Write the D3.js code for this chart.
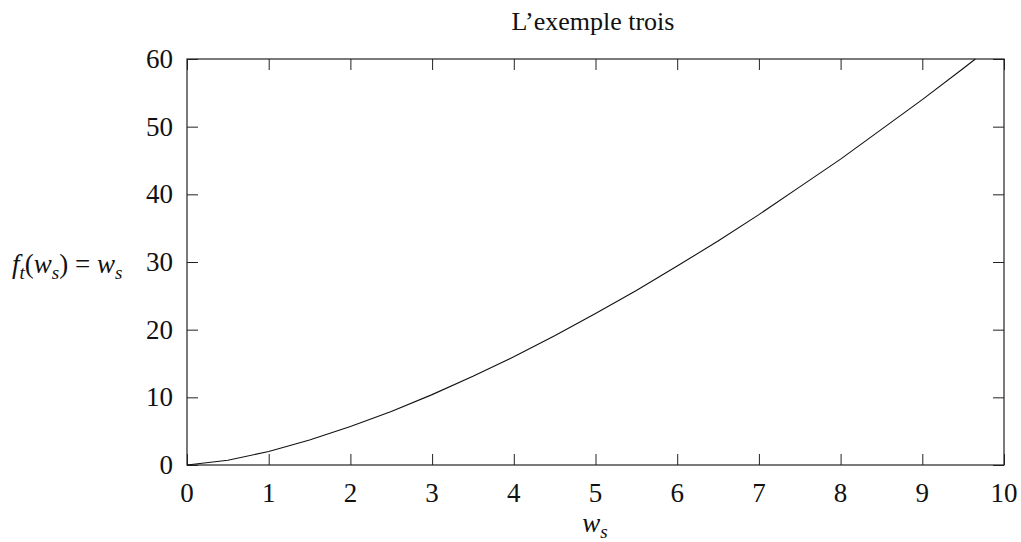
<!DOCTYPE html>
<html>
<head>
<meta charset="utf-8">
<script src="https://cdn.jsdelivr.net/npm/d3@7"></script>
<style>
  body { margin: 0; background: #fff; }
  text { font-family: "Liberation Serif", "DejaVu Serif", serif; fill: #111; }
</style>
</head>
<body>
<div id="chart"></div>
<script>
// values
var xTicks = [0, 1, 2, 3, 4, 5, 6, 7, 8, 9, 10];
var yTicks = [0, 10, 20, 30, 40, 50, 60];
var ws = [0, 0.5, 1, 1.5, 2, 2.5, 3, 3.5, 4, 4.5, 5, 5.5, 6, 6.5, 7, 7.5, 8, 8.5, 9, 9.5, 9.65];
var ft = [0, 0.7, 2, 3.7, 5.7, 7.9, 10.4, 13.1, 16, 19.1, 22.4, 25.8, 29.4, 33.1, 37, 41.1, 45.2, 49.6, 54, 58.6, 60];

var width = 1021, height = 542;
var margin = {top: 59, right: 17, bottom: 77, left: 187};
var w = width - margin.left - margin.right,
    h = height - margin.top - margin.bottom;

var svg = d3.select("#chart").append("svg")
    .attr("width", width)
    .attr("height", height);

var g = svg.append("g")
    .attr("transform", "translate(" + margin.left + "," + margin.top + ")");

var x = d3.scaleLinear().domain([0, 10]).range([0, w]);
var y = d3.scaleLinear().domain([0, 60]).range([h, 0]);

var tickLen = 11;

// inward ticks on all four sides
g.append("g").attr("transform", "translate(0," + h + ")")
  .call(d3.axisTop(x).tickValues(xTicks).tickSize(tickLen).tickFormat(""));
g.append("g")
  .call(d3.axisBottom(x).tickValues(xTicks).tickSize(tickLen).tickFormat(""));
g.append("g")
  .call(d3.axisRight(y).tickValues(yTicks).tickSize(tickLen).tickFormat(""));
g.append("g").attr("transform", "translate(" + w + ",0)")
  .call(d3.axisLeft(y).tickValues(yTicks).tickSize(tickLen).tickFormat(""));
g.selectAll(".domain").remove();
g.selectAll(".tick line").attr("stroke", "#222").attr("stroke-width", 1);

// tick labels
g.selectAll(".xlab").data(xTicks).enter().append("text")
  .attr("x", d => x(d))
  .attr("y", h + 37)
  .attr("text-anchor", "middle")
  .style("font-size", "27px")
  .text(d => d);

g.selectAll(".ylab").data(yTicks).enter().append("text")
  .attr("x", -14)
  .attr("y", d => y(d) + 9)
  .attr("text-anchor", "end")
  .style("font-size", "27px")
  .text(d => d);

// border
g.append("rect")
  .attr("width", w).attr("height", h)
  .attr("fill", "none").attr("stroke", "#222").attr("stroke-width", 1.2);

// curve
var line = d3.line()
  .x((d, i) => x(ws[i]))
  .y(d => y(d));
g.append("path")
  .datum(ft)
  .attr("d", line)
  .attr("fill", "none")
  .attr("stroke", "#111")
  .attr("stroke-width", 1.1);

// title
svg.append("text")
  .attr("x", 593).attr("y", 30)
  .attr("text-anchor", "middle")
  .style("font-size", "26px")
  .text("L\u2019exemple trois");

// x label
var xl = svg.append("text")
  .attr("x", 595).attr("y", 532)
  .attr("text-anchor", "middle")
  .style("font-size", "27px");
xl.append("tspan").style("font-style", "italic").text("w");
xl.append("tspan").attr("dy", 6).style("font-size", "19px").style("font-style", "italic").text("s");

// y label
var yl = svg.append("text")
  .attr("x", 12).attr("y", 273)
  .style("font-size", "27px");
yl.append("tspan").style("font-style", "italic").text("f");
yl.append("tspan").attr("dy", 6).style("font-size", "19px").style("font-style", "italic").text("t");
yl.append("tspan").attr("dy", -6).text("(");
yl.append("tspan").style("font-style", "italic").text("w");
yl.append("tspan").attr("dy", 6).style("font-size", "19px").style("font-style", "italic").text("s");
yl.append("tspan").attr("dy", -6).text(") = ");
yl.append("tspan").style("font-style", "italic").text("w");
yl.append("tspan").attr("dy", 6).style("font-size", "19px").style("font-style", "italic").text("s");
</script>
</body>
</html>
